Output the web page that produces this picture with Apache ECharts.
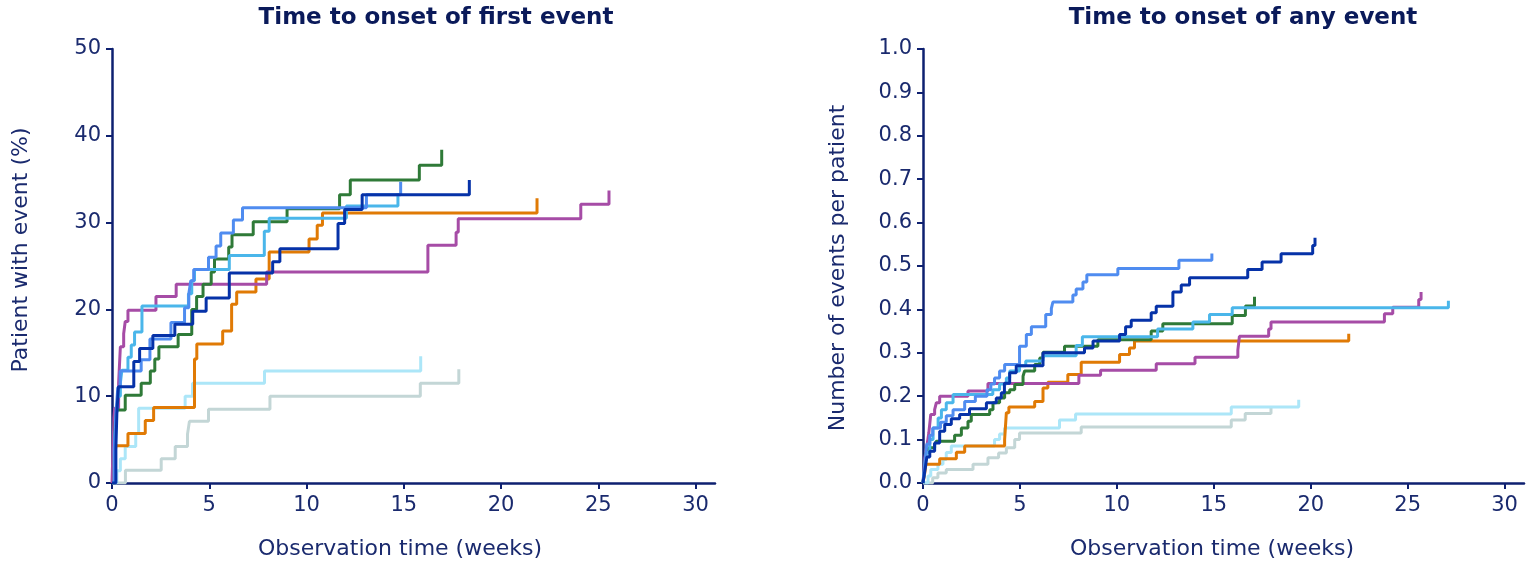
<!DOCTYPE html>
<html><head><meta charset="utf-8">
<script src="https://cdn.jsdelivr.net/npm/echarts@6/dist/echarts.min.js"></script>
<style>html,body{margin:0;padding:0;background:#fff}#c{width:1528px;height:566px}</style>
</head><body><div id="c"></div>
<script>
// ---- tick labels ----
const weekTicks = [0, 5, 10, 15, 20, 25, 30];
const pctTicks = [0, 10, 20, 30, 40, 50];
const rateTicks = [0, 0.1, 0.2, 0.3, 0.4, 0.5, 0.6, 0.7, 0.8, 0.9, 1.0];

// ---- series names / colours ----
const seriesNames = ['grey', 'pale', 'orange', 'purple', 'green', 'sky', 'cornflower', 'darkblue'];
const seriesColors = ['#c3d6d6', '#ace6f8', '#e07a05', '#a64ca6', '#2f7a38', '#4ab6ea', '#4f8cf0', '#0632a8'];

// ---- Left: time to first event, [week, % patients] (step changes) ----
const firstGrey = [[0,0],[0.69,1.46],[2.53,2.8],[3.25,4.2],[3.88,5.6],[3.98,7.1],[4.96,8.5],[8.12,10.0],[15.85,11.5],[17.83,13.1]];
const firstPale = [[0,0],[0.25,1.4],[0.43,2.8],[0.68,4.2],[1.22,5.7],[1.37,8.6],[3.76,10.0],[4.14,11.5],[7.84,12.9],[15.87,14.6]];
const firstOrange = [[0,0],[0.13,2.6],[0.2,4.3],[0.82,5.7],[1.71,7.2],[2.14,8.7],[4.24,14.3],[4.36,16.0],[5.69,17.5],[6.15,20.6],[6.41,22.0],[7.4,23.5],[8.08,26.6],[10.13,28.1],[10.55,29.7],[10.82,31.1],[21.85,32.8]];
const firstPurple = [[0,0],[0.1,7.6],[0.14,8.6],[0.34,11.5],[0.43,15.7],[0.6,17.2],[0.68,18.6],[0.82,19.9],[2.26,21.5],[3.3,22.9],[7.95,24.3],[16.24,27.4],[17.69,28.9],[17.8,30.45],[24.1,32.1],[25.55,33.7]];
const firstGreen = [[0,0],[0.12,3],[0.17,7],[0.25,8.4],[0.68,10.1],[1.5,11.5],[1.97,12.9],[2.2,14.3],[2.41,15.7],[3.4,17.1],[4.1,20.0],[4.35,21.5],[4.68,22.9],[5.1,24.3],[5.27,25.8],[6.0,27.2],[6.17,28.6],[7.26,30.1],[9.0,31.6],[11.7,33.2],[12.25,34.9],[15.8,36.6],[16.95,38.4]];
const firstSky = [[0,0],[0.12,4],[0.2,7],[0.3,10],[0.43,11.5],[0.51,13],[0.82,14.5],[0.99,15.9],[1.16,17.4],[1.54,20.4],[3.93,21.8],[4.1,23.3],[4.24,24.6],[6.03,26.2],[7.83,29.0],[8.08,30.5],[12.05,31.9],[14.7,33.4]];
const firstCornflower = [[0,0],[0.12,4],[0.2,8],[0.3,11],[0.42,12.9],[1.5,14.2],[1.95,16.6],[3.03,18.5],[3.73,20.2],[3.95,21.8],[4.05,23.3],[4.2,24.6],[4.96,26.0],[5.35,27.3],[5.59,28.8],[6.24,30.3],[6.71,31.7],[13.08,33.2],[14.84,34.7]];
const firstDarkblue = [[0,0],[0.2,4],[0.25,8],[0.33,11.1],[1.12,14.0],[1.42,15.5],[2.1,17.0],[3.23,18.3],[4.15,19.8],[4.84,21.3],[6.03,24.2],[8.26,25.5],[8.63,27.0],[11.62,29.9],[11.96,31.5],[12.86,33.2],[18.37,34.9]];

// ---- Right: time to any event, [week, events per patient] ----
const anyGrey = [[0,0],[0.5,0.012],[0.77,0.023],[1.2,0.031],[2.58,0.043],[3.35,0.058],[3.9,0.069],[4.3,0.081],[4.73,0.1],[4.98,0.115],[8.16,0.129],[15.9,0.145],[16.62,0.16],[17.95,0.177]];
const anyPale = [[0,0],[0.26,0.016],[0.4,0.031],[0.77,0.043],[1.03,0.054],[1.2,0.07],[1.46,0.085],[3.69,0.1],[3.95,0.113],[4.21,0.127],[7.04,0.145],[7.87,0.159],[15.9,0.175],[19.38,0.192]];
const anyOrange = [[0,0],[0.09,0.023],[0.15,0.043],[0.86,0.056],[1.72,0.071],[2.15,0.085],[4.21,0.1],[4.3,0.162],[4.43,0.175],[5.76,0.188],[6.19,0.219],[6.44,0.232],[7.47,0.25],[8.16,0.278],[10.14,0.296],[10.65,0.311],[10.91,0.327],[21.96,0.344]];
const anyPurple = [[0,0],[0.1,0.06],[0.2,0.085],[0.3,0.115],[0.4,0.158],[0.6,0.169],[0.69,0.185],[0.86,0.2],[2.32,0.212],[3.35,0.229],[8.04,0.248],[9.16,0.26],[12.03,0.275],[14.03,0.29],[16.24,0.306],[16.32,0.338],[17.83,0.355],[17.95,0.371],[23.8,0.39],[24.23,0.405],[25.57,0.423],[25.69,0.44]];
const anyGreen = [[0,0],[0.1,0.04],[0.15,0.07],[0.3,0.081],[0.6,0.089],[0.69,0.096],[1.63,0.11],[1.98,0.127],[2.32,0.142],[2.49,0.158],[3.44,0.169],[3.61,0.185],[3.95,0.196],[4.21,0.208],[4.47,0.215],[4.73,0.227],[5.16,0.246],[5.24,0.258],[5.76,0.273],[6.02,0.288],[6.19,0.301],[7.3,0.315],[9.02,0.33],[11.77,0.35],[12.37,0.367],[15.95,0.386],[16.63,0.408],[17.1,0.429]];
const anySky = [[0,0],[0.1,0.04],[0.18,0.07],[0.35,0.1],[0.52,0.127],[0.78,0.15],[0.95,0.169],[1.2,0.185],[1.55,0.204],[3.6,0.215],[3.95,0.228],[4.3,0.242],[4.47,0.258],[4.98,0.27],[5.3,0.281],[6.19,0.293],[7.9,0.317],[8.22,0.337],[12.1,0.355],[13.92,0.371],[14.78,0.388],[15.95,0.404],[27.1,0.42]];
const anyCornflower = [[0,0],[0.1,0.05],[0.2,0.09],[0.35,0.11],[0.5,0.127],[0.9,0.14],[1.2,0.155],[1.55,0.169],[2.15,0.188],[2.7,0.2],[3.3,0.215],[3.5,0.228],[3.69,0.242],[3.95,0.258],[4.21,0.273],[4.98,0.315],[5.33,0.342],[5.59,0.36],[6.33,0.388],[6.62,0.402],[6.7,0.417],[7.73,0.433],[7.9,0.447],[8.25,0.463],[8.45,0.48],[10.05,0.494],[13.2,0.513],[14.9,0.529]];
const anyDarkblue = [[0,0],[0.1,0.03],[0.2,0.06],[0.35,0.073],[0.6,0.092],[0.86,0.119],[1.12,0.135],[1.46,0.148],[1.89,0.158],[2.4,0.171],[3.27,0.185],[3.78,0.196],[4.04,0.208],[4.2,0.23],[4.47,0.254],[4.81,0.27],[6.19,0.3],[8.33,0.311],[8.77,0.327],[10.14,0.342],[10.45,0.36],[10.74,0.375],[11.77,0.392],[12.03,0.407],[12.89,0.44],[13.32,0.456],[13.75,0.473],[16.75,0.492],[17.49,0.509],[18.47,0.528],[20.1,0.547],[20.22,0.565]];

const firstData = [firstGrey, firstPale, firstOrange, firstPurple, firstGreen, firstSky, firstCornflower, firstDarkblue];
const anyData = [anyGrey, anyPale, anyOrange, anyPurple, anyGreen, anySky, anyCornflower, anyDarkblue];

const titleLeft = 'Time to onset of first event';
const titleRight = 'Time to onset of any event';
const xName = 'Observation time (weeks)';
const yNameLeft = 'Patient with event (%)';
const yNameRight = 'Number of events per patient';

const NAVY = '#0e2070';
const TXT = '#1a2a6e';
const FONT = 'DejaVu Sans';

function xAxisCfg(gi) {
  return {
    gridIndex: gi, type: 'value', min: 0, max: 31, interval: 5,
    axisLine: { show: true, lineStyle: { color: NAVY, width: 2.5 } },
    axisTick: { show: true, length: 6, lineStyle: { color: NAVY, width: 2 }, customValues: weekTicks },
    axisLabel: { color: TXT, fontFamily: FONT, fontSize: 21, margin: 12, customValues: weekTicks },
    splitLine: { show: false }
  };
}
function yAxisCfg(gi, max, interval, ticks, fmt) {
  return {
    gridIndex: gi, type: 'value', min: 0, max: max, interval: interval,
    axisLine: { show: true, lineStyle: { color: NAVY, width: 2.5 } },
    axisTick: { show: true, length: 6, lineStyle: { color: NAVY, width: 2 }, customValues: ticks },
    axisLabel: { color: TXT, fontFamily: FONT, fontSize: 21, margin: 11, customValues: ticks, formatter: fmt },
    splitLine: { show: false }
  };
}

const series = [];
firstData.forEach((d, i) => series.push({
  name: seriesNames[i], type: 'line', step: 'end', xAxisIndex: 0, yAxisIndex: 0,
  data: d, showSymbol: false, lineStyle: { width: 3, color: seriesColors[i] }, itemStyle: { color: seriesColors[i] }, z: 2 + i
}));
anyData.forEach((d, i) => series.push({
  name: seriesNames[i], type: 'line', step: 'end', xAxisIndex: 1, yAxisIndex: 1,
  data: d, showSymbol: false, lineStyle: { width: 3, color: seriesColors[i] }, itemStyle: { color: seriesColors[i] }, z: 2 + i
}));

const chart = echarts.init(document.getElementById('c'), null, { renderer: 'canvas' });
chart.setOption({
  animation: false,
  backgroundColor: '#ffffff',
  grid: [
    { left: 112, top: 49, width: 603, height: 434 },
    { left: 923, top: 49, width: 601, height: 434 }
  ],
  xAxis: [xAxisCfg(0), xAxisCfg(1)],
  yAxis: [
    yAxisCfg(0, 50, 10, pctTicks, v => String(v)),
    yAxisCfg(1, 1, 0.1, rateTicks, v => v.toFixed(1))
  ],
  series: series,
  graphic: [
    { type: 'text', x: 436, y: 18, style: { text: titleLeft, fill: '#0a1a5a', font: 'bold 23px "DejaVu Sans"', align: 'center', verticalAlign: 'middle' } },
    { type: 'text', x: 1243, y: 18, style: { text: titleRight, fill: '#0a1a5a', font: 'bold 23px "DejaVu Sans"', align: 'center', verticalAlign: 'middle' } },
    { type: 'text', x: 400, y: 549, style: { text: xName, fill: TXT, font: '22px "DejaVu Sans"', align: 'center', verticalAlign: 'middle' } },
    { type: 'text', x: 1212, y: 549, style: { text: xName, fill: TXT, font: '22px "DejaVu Sans"', align: 'center', verticalAlign: 'middle' } },
    { type: 'text', x: 21, y: 250, rotation: Math.PI / 2, style: { text: yNameLeft, fill: TXT, font: '22px "DejaVu Sans"', align: 'center', verticalAlign: 'middle' } },
    { type: 'text', x: 838, y: 268, rotation: Math.PI / 2, style: { text: yNameRight, fill: TXT, font: '22px "DejaVu Sans"', align: 'center', verticalAlign: 'middle' } }
  ]
});
</script></body></html>
